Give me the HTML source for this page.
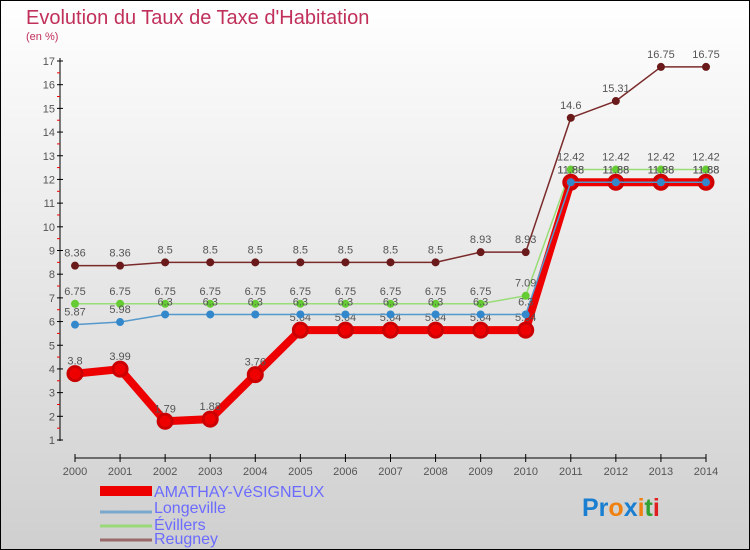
<!DOCTYPE html>
<html><head><meta charset="utf-8"><style>
body{margin:0}
svg{display:block;font-family:"Liberation Sans",sans-serif}
</style></head><body>
<svg id="c" width="750" height="550" viewBox="0 0 750 550">
<defs><linearGradient id="bg" x1="0" y1="0" x2="0" y2="1"><stop offset="0" stop-color="#ffffff"/><stop offset="1" stop-color="#cfcfcf"/></linearGradient></defs>
<rect x="0.5" y="0.5" width="749" height="549" fill="url(#bg)" stroke="#000"/>
<text x="26" y="24" font-size="20" fill="#c0305a">Evolution du Taux de Taxe d'Habitation</text>
<text x="26" y="40" font-size="11" fill="#c0305a">(en %)</text>
<g id="axes"></g><g id="series"></g>
<g>
<rect x="100" y="486" width="52" height="10" fill="#e00"/>
<text x="154" y="497" font-size="16" fill="#6b6bff">AMATHAY-VéSIGNEUX</text>
<line x1="100" y1="512" x2="152" y2="512" stroke="#7aa8cc" stroke-width="3"/>
<text x="154" y="513" font-size="16" fill="#6b6bff">Longeville</text>
<line x1="100" y1="526" x2="152" y2="526" stroke="#99d97a" stroke-width="3"/>
<text x="154" y="530" font-size="16" fill="#6b6bff">Évillers</text>
<line x1="100" y1="540" x2="152" y2="540" stroke="#9a6a6a" stroke-width="3"/>
<text x="154" y="544" font-size="16" fill="#6b6bff">Reugney</text>
</g>
<text x="582" y="516" font-size="25" font-weight="bold"><tspan fill="#1a7fd0">Pr</tspan><tspan fill="#f08010">o</tspan><tspan fill="#1a7fd0">x</tspan><tspan fill="#f08010">i</tspan><tspan fill="#30a030">t</tspan><tspan fill="#e02020">i</tspan></text>
</svg>
<script>
const years=[2000,2001,2002,2003,2004,2005,2006,2007,2008,2009,2010,2011,2012,2013,2014];
const yTicks=[1,2,3,4,5,6,7,8,9,10,11,12,13,14,15,16,17];
const amathay=[3.8,3.99,1.79,1.88,3.76,5.64,5.64,5.64,5.64,5.64,5.64,11.88,11.88,11.88,11.88];
const longeville=[5.87,5.98,6.3,6.3,6.3,6.3,6.3,6.3,6.3,6.3,6.3,11.88,11.88,11.88,11.88];
const evillers=[6.75,6.75,6.75,6.75,6.75,6.75,6.75,6.75,6.75,6.75,7.09,12.42,12.42,12.42,12.42];
const reugney=[8.36,8.36,8.5,8.5,8.5,8.5,8.5,8.5,8.5,8.93,8.93,14.6,15.31,16.75,16.75];
const NS='http://www.w3.org/2000/svg';
const X=i=>75+i*(706-75)/(years.length-1);
const Y=v=>440-(v-1)*(440-61)/16;
function mk(t,a,p){const e=document.createElementNS(NS,t);for(const k in a)e.setAttribute(k,a[k]);p.appendChild(e);return e;}
const ax=document.getElementById('axes'),sr=document.getElementById('series');
let yl=mk('line',{x1:60,y1:58,x2:60,y2:441,stroke:'#000','stroke-width':1},ax);


yTicks.forEach(v=>{
 mk('line',{x1:57,y1:Y(v),x2:63,y2:Y(v),stroke:'#000'},ax);
 if(v<17) mk('line',{x1:57,y1:Y(v+0.5),x2:60,y2:Y(v+0.5),stroke:'#e00'},ax);
 const t=mk('text',{x:55,y:Y(v)+4,'font-size':11,fill:'#555','text-anchor':'end'},ax);t.textContent=v;
 
 
});
let xl=mk('line',{x1:75,y1:458,x2:706,y2:458,stroke:'#000'},ax);


years.forEach((y,i)=>{
 mk('line',{x1:X(i),y1:454,x2:X(i),y2:462,stroke:'#000'},ax);
 const t=mk('text',{x:X(i),y:475,'font-size':11,fill:'#555','text-anchor':'middle'},ax);t.textContent=y;
 
 
});
function series(name,vals,color,w,r,fill,ring,labOff){
 const g=mk('g',{},sr);
 
 
 mk('polyline',{points:vals.map((v,i)=>X(i)+','+Y(v)).join(' '),fill:'none',stroke:color,'stroke-width':w,'stroke-linejoin':'round'},g);
 vals.forEach((v,i)=>{
  const c=mk('circle',{cx:X(i),cy:Y(v),r:r,fill:fill,stroke:ring,'stroke-width':ring=='none'?0:3},g);
  
  
  const t=mk('text',{x:X(i),y:Y(v)+labOff,'font-size':11,fill:'#555','text-anchor':'middle'},g);t.textContent=v;
  
  
 });
}
series('reugney',reugney,'#7a2a2a',1.5,4,'#6a1a1a','none',-9);
series('evillers',evillers,'#99dd77',1.5,4,'#66cc33','none',-9);
series('amathay',amathay,'#ee0000',8,7,'#ee0000','#cc0000',-9);
series('longeville',longeville,'#5599cc',1.5,4,'#3388cc','none',-9);
</script>
</body></html>
